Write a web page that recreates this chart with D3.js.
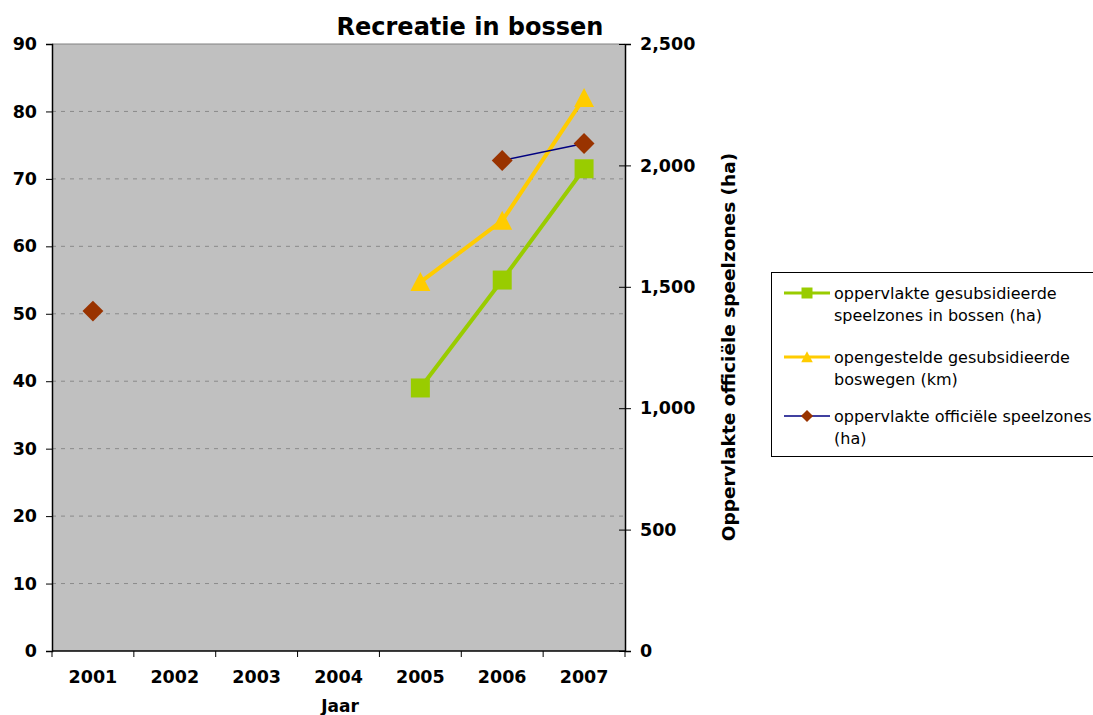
<!DOCTYPE html>
<html>
<head>
<meta charset="utf-8">
<script src="https://cdn.jsdelivr.net/npm/d3@7"></script>
<style>
    body { margin: 0; background: #fff; }
    svg { font-family: Verdana, "DejaVu Sans", sans-serif; }
</style>
</head>
<body>
<div id="chart"></div>
<script>
'use strict';

// Data
const years = ['2001', '2002', '2003', '2004', '2005', '2006', '2007'];
const speelzonesBossen = [null, null, null, null, 39, 55, 71.5];     // left axis (ha)
const boswegen = [null, null, null, null, 54.7, 63.8, 82];          // left axis (km)
const officieleSpeelzones = [1400, null, null, null, null, 2020, 2090]; // right axis (ha)
const leftTicks = [0, 10, 20, 30, 40, 50, 60, 70, 80, 90];
const rightTicks = [0, 500, 1000, 1500, 2000, 2500];

const series = [
    { name: ['oppervlakte gesubsidieerde', 'speelzones in bossen (ha)'], values: speelzonesBossen, axis: 'left', line: '#99CC00', fill: '#99CC00', width: 4, marker: 'square' },
    { name: ['opengestelde gesubsidieerde', 'boswegen (km)'], values: boswegen, axis: 'left', line: '#FFCC00', fill: '#FFCC00', width: 4, marker: 'triangle' },
    { name: ['oppervlakte officiële speelzones', '(ha)'], values: officieleSpeelzones, axis: 'right', line: '#000080', fill: '#993300', width: 1.5, marker: 'diamond' }
];

const tickFont = 17.5;

function main() {
    const width = 1093, height = 715;
    const plot = { left: 52, right: 625, top: 44, bottom: 651 };

    let svg = d3.select('#chart')
        .append('svg')
        .attr('width', width)
        .attr('height', height);

    // Scales
    let x = d3.scaleBand().domain(years).range([plot.left, plot.right]);
    let yLeft = d3.scaleLinear().domain([0, 90]).range([plot.bottom, plot.top]);
    let yRight = d3.scaleLinear().domain([0, 2500]).range([plot.bottom, plot.top]);

    // Plot background
    svg.append('rect')
        .attr('x', plot.left).attr('y', plot.top)
        .attr('width', plot.right - plot.left).attr('height', plot.bottom - plot.top)
        .attr('fill', '#C0C0C0');

    // Gridlines
    svg.append('g')
        .selectAll('line')
        .data(leftTicks.filter(t => t > 0 && t < 90))
        .enter()
        .append('line')
        .attr('x1', plot.left).attr('x2', plot.right)
        .attr('y1', d => yLeft(d)).attr('y2', d => yLeft(d))
        .attr('stroke', '#8a8a8a')
        .attr('stroke-dasharray', '4,5');

    // top border of plot
    svg.append('line')
        .attr('x1', plot.left).attr('x2', plot.right)
        .attr('y1', plot.top).attr('y2', plot.top)
        .attr('stroke', '#808080').attr('stroke-width', 1);

    // Left axis
    let leftAxis = svg.append('g')
        .attr('transform', `translate(${plot.left},0)`)
        .call(d3.axisLeft(yLeft).tickValues(leftTicks).tickSize(6).tickPadding(9));
    styleAxis(leftAxis);

    // Right axis
    let rightAxis = svg.append('g')
        .attr('transform', `translate(${plot.right},0)`)
        .call(d3.axisRight(yRight).tickValues(rightTicks).tickSize(6).tickPadding(9).tickFormat(d3.format(',')));
    styleAxis(rightAxis);
    rightAxis.selectAll('.tick line').attr('x1', -6);

    // Bottom axis: ticks at category boundaries
    let bottom = svg.append('g')
        .attr('transform', `translate(0,${plot.bottom})`);
    bottom.append('line')
        .attr('x1', plot.left).attr('x2', plot.right)
        .attr('stroke', '#000').attr('stroke-width', 1.5);
    let boundaries = years.map(y => x(y)).concat([x(years[years.length - 1]) + x.bandwidth()]);
    bottom.selectAll('.bt')
        .data(boundaries)
        .enter()
        .append('line')
        .attr('x1', d => d).attr('x2', d => d)
        .attr('y1', 0).attr('y2', 6)
        .attr('stroke', '#000');
    bottom.selectAll('.bl')
        .data(years)
        .enter()
        .append('text')
        .attr('x', d => x(d) + x.bandwidth() / 2)
        .attr('y', 32)
        .attr('text-anchor', 'middle')
        .attr('font-size', tickFont)
        .attr('font-weight', 'bold')
        .text(d => d);

    // Axis titles
    svg.append('text')
        .attr('x', 340).attr('y', 712)
        .attr('text-anchor', 'middle')
        .attr('font-size', 17).attr('font-weight', 'bold')
        .text('Jaar');
    svg.append('text')
        .attr('transform', 'translate(735,347) rotate(-90)')
        .attr('text-anchor', 'middle')
        .attr('font-size', 18.5).attr('font-weight', 'bold')
        .text('Oppervlakte officiële speelzones (ha)');

    // Title
    svg.append('text')
        .attr('x', 470).attr('y', 35)
        .attr('text-anchor', 'middle')
        .attr('font-size', 24).attr('font-weight', 'bold')
        .text('Recreatie in bossen');

    // Lines and markers
    series.forEach(s => {
        let yScale = s.axis === 'left' ? yLeft : yRight;
        let points = years.map((yr, i) => ({ year: yr, value: s.values[i] }));
        let line = d3.line()
            .defined(d => d.value !== null)
            .x(d => x(d.year) + x.bandwidth() / 2)
            .y(d => yScale(d.value));
        svg.append('path')
            .datum(points)
            .attr('d', line)
            .attr('fill', 'none')
            .attr('stroke', s.line)
            .attr('stroke-width', s.width);
        svg.append('g')
            .selectAll('path')
            .data(points.filter(d => d.value !== null))
            .enter()
            .append('path')
            .attr('transform', d => `translate(${x(d.year) + x.bandwidth() / 2},${yScale(d.value)})`)
            .attr('d', markerPath(s.marker, 19))
            .attr('fill', s.fill);
    });

    // Legend
    let legend = svg.append('g');
    legend.append('rect')
        .attr('x', 771.5).attr('y', 272.5)
        .attr('width', 340).attr('height', 184)
        .attr('fill', '#fff').attr('stroke', '#000');
    const itemY = [293, 357, 416];
    series.forEach((s, i) => {
        let g = legend.append('g').attr('transform', `translate(0,${itemY[i]})`);
        g.append('line')
            .attr('x1', 784).attr('x2', 830)
            .attr('stroke', s.line)
            .attr('stroke-width', s.width === 4 ? 3 : 1.5);
        g.append('path')
            .attr('transform', 'translate(807,0)')
            .attr('d', markerPath(s.marker, 11))
            .attr('fill', s.fill);
        s.name.forEach((t, j) => {
            g.append('text')
                .attr('x', 834).attr('y', j * 22 + 6)
                .attr('font-size', 16)
                .text(t);
        });
    });
}

function styleAxis(axis) {
    axis.select('.domain').attr('stroke', '#000').attr('stroke-width', 1.5);
    axis.selectAll('.tick line').attr('stroke', '#000');
    axis.selectAll('text')
        .attr('font-size', tickFont)
        .attr('font-weight', 'bold')
        .attr('fill', '#000');
    axis.attr('font-family', null);
}

function markerPath(kind, size) {
    let h = size / 2;
    switch (kind) {
        case 'square':
            return `M${-h},${-h}H${h}V${h}H${-h}Z`;
        case 'triangle':
            return `M0,${-h * 1.05}L${h * 1.05},${h * 0.95}L${-h * 1.05},${h * 0.95}Z`;
        default:
            return `M0,${-h * 1.1}L${h * 1.1},0L0,${h * 1.1}L${-h * 1.1},0Z`;
    }
}

main();
</script>
</body>
</html>
